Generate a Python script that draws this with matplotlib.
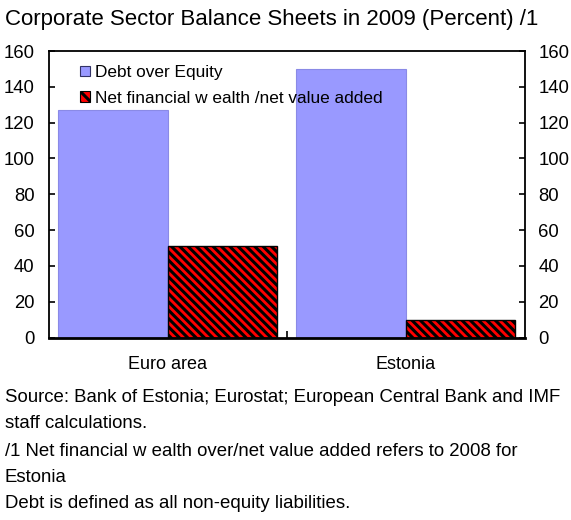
import matplotlib
matplotlib.use("Agg")
import matplotlib.pyplot as plt
import numpy as np
from matplotlib.patches import Patch

categories = ["Euro area", "Estonia"]
debt_over_equity = [127, 150]
net_fin_wealth = [51, 9.5]
yticks = [0, 20, 40, 60, 80, 100, 120, 140, 160]

title = "Corporate Sector Balance Sheets in 2009 (Percent) /1"
series_names = ["Debt over Equity", "Net financial w ealth /net value added"]
notes = [
    "Source: Bank of Estonia; Eurostat; European Central Bank and IMF",
    "staff calculations.",
    "/1 Net financial w ealth over/net value added refers to 2008 for",
    "Estonia",
    "Debt is defined as all non-equity liabilities.",
]

plt.rcParams['font.family'] = ['Liberation Sans', 'DejaVu Sans']
plt.rcParams['hatch.linewidth'] = 2.2
plt.rcParams['hatch.color'] = 'black'

W, H = 571, 520
fig = plt.figure(figsize=(W/100, H/100), dpi=100)
l, r, t, b = 48.5, 524.5, 51, 337.5
ax = fig.add_axes([l/W, 1 - b/H, (r-l)/W, (b-t)/H])

x = np.arange(len(categories))
w = 0.458
ax.bar(x - w/2, debt_over_equity, width=w, color='#9999FF', edgecolor='#8A8AE6', linewidth=0.8, zorder=2)
ax.bar(x + w/2, net_fin_wealth, width=w, color='#FF0000', edgecolor='black', hatch='\\\\\\\\', linewidth=1.0, zorder=2)

ax.set_xlim(-0.5, 1.5)
ax.set_ylim(0, 160)
ax.set_yticks(yticks)
ax.tick_params(axis='y', which='both', direction='in', length=4, width=1.2,
               left=True, right=True, labelleft=True, labelright=True,
               labelsize=13.3, pad=10)
ax.set_xticks([0.5])
ax.set_xticklabels([""])
ax.tick_params(axis='x', direction='in', length=5, width=1.2)
for s in ['left', 'right', 'top']:
    ax.spines[s].set_linewidth(1.3)
ax.spines['bottom'].set_linewidth(2.0)

for xi, c in zip(x, categories):
    ax.text(xi, -0.095, c, transform=ax.get_xaxis_transform(), ha='center', va='center', fontsize=13)

handles = [Patch(facecolor='#9999FF', edgecolor='#333366', linewidth=0.8),
           Patch(facecolor='#FF0000', edgecolor='black', hatch='\\\\\\', linewidth=0.8)]
leg = ax.legend(handles, series_names, loc='upper left', bbox_to_anchor=(0.052, 0.975),
                frameon=False, fontsize=12.4, handlelength=0.6, handleheight=0.6,
                handletextpad=0.25, labelspacing=0.62, borderaxespad=0)
leg.set_zorder(5)

fig.text(5/W, 1 - 20/H, title, ha='left', va='center', fontsize=16)
ys = [397, 424, 451, 477, 504]
for yy, n in zip(ys, notes):
    fig.text(5/W, 1 - yy/H, n, ha='left', va='center', fontsize=13.4)

fig.savefig("out.png", dpi=100)
